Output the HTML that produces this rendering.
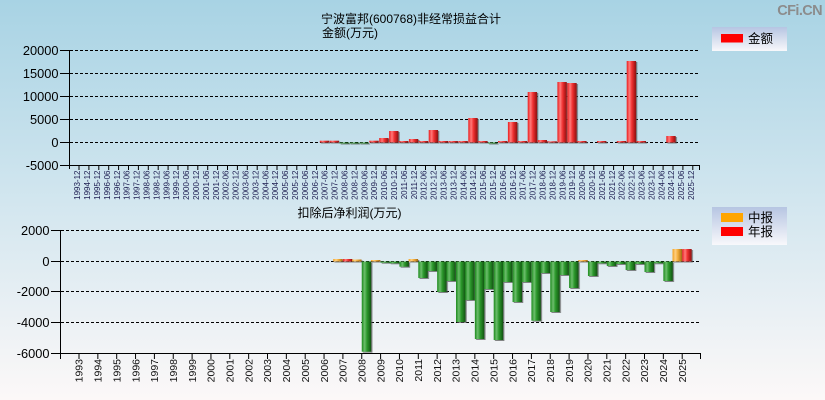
<!DOCTYPE html>
<html><head><meta charset="utf-8"><style>
html,body{margin:0;padding:0;}
body{width:825px;height:400px;overflow:hidden;}
svg{display:block;}
text{font-family:"Liberation Sans","Noto Sans CJK SC",sans-serif;}
</style></head><body>
<svg width="825" height="400" viewBox="0 0 825 400" xmlns="http://www.w3.org/2000/svg">
<defs>
<linearGradient id="bg" x1="0" y1="0" x2="0" y2="1">
<stop offset="0" stop-color="#a8d3e4"/><stop offset="0.5" stop-color="#d2e6ef"/><stop offset="1" stop-color="#fcf8f8"/>
</linearGradient>
<linearGradient id="lg" x1="0" y1="0" x2="0" y2="1">
<stop offset="0" stop-color="#b6c5e2"/><stop offset="1" stop-color="#f8f8fb"/>
</linearGradient>
<linearGradient id="rd" x1="0" y1="0" x2="1" y2="0">
<stop offset="0" stop-color="#ea1c1c"/><stop offset="0.3" stop-color="#ff7a7a"/><stop offset="0.55" stop-color="#f03232"/><stop offset="0.85" stop-color="#b01a1a"/><stop offset="1" stop-color="#8a1414"/>
</linearGradient>
<linearGradient id="gr" x1="0" y1="0" x2="1" y2="0">
<stop offset="0" stop-color="#1c8a1c"/><stop offset="0.3" stop-color="#6cbd6c"/><stop offset="0.55" stop-color="#2c982c"/><stop offset="0.85" stop-color="#1a6a1a"/><stop offset="1" stop-color="#145014"/>
</linearGradient>
<linearGradient id="or" x1="0" y1="0" x2="1" y2="0">
<stop offset="0" stop-color="#f0a020"/><stop offset="0.3" stop-color="#ffcf80"/><stop offset="0.55" stop-color="#f3ae3c"/><stop offset="0.85" stop-color="#c08020"/><stop offset="1" stop-color="#a06818"/>
</linearGradient>
<filter id="sh" x="-20%" y="-20%" width="140%" height="140%">
<feDropShadow dx="1.2" dy="1" stdDeviation="0.3" flood-color="#555" flood-opacity="0.7"/>
</filter>
<pattern id="tt" patternUnits="userSpaceOnUse" x="78.5" y="165" width="9.9" height="5"><rect x="0" y="0" width="1" height="5" fill="#000"/></pattern>
<pattern id="tb" patternUnits="userSpaceOnUse" x="78.5" y="353" width="18.85" height="6"><rect x="0" y="0" width="1" height="6" fill="#000"/></pattern>
</defs>
<rect x="0" y="0" width="825" height="400" fill="url(#bg)"/>

<!-- watermark -->
<text x="822" y="15" text-anchor="end" font-size="14.5" font-weight="bold" fill="#8c8c8c" letter-spacing="-0.6">CFi.CN</text>

<!-- ===== TOP CHART ===== -->
<text x="411" y="23" text-anchor="middle" font-size="12" fill="#000">宁波富邦(600768)非经常损益合计</text>
<text x="322" y="37" font-size="12" fill="#000">金额(万元)</text>

<g stroke="#000" stroke-width="1" stroke-dasharray="3,2">
<line x1="70" y1="50.5" x2="700" y2="50.5"/>
<line x1="70" y1="73.5" x2="700" y2="73.5"/>
<line x1="70" y1="96.5" x2="700" y2="96.5"/>
<line x1="70" y1="119.5" x2="700" y2="119.5"/>
<line x1="70" y1="142.5" x2="700" y2="142.5"/>
</g>

<g filter="url(#sh)">
<rect x="319.8" y="140.7" width="9.4" height="1.8" fill="url(#rd)"/>
<rect x="329.7" y="140.7" width="9.4" height="1.8" fill="url(#rd)"/>
<rect x="339.6" y="142.5" width="9.4" height="1" fill="url(#gr)"/>
<rect x="349.5" y="142.5" width="9.4" height="1" fill="url(#gr)"/>
<rect x="359.4" y="142.5" width="9.4" height="1" fill="url(#gr)"/>
<rect x="369.3" y="140.7" width="9.4" height="1.8" fill="url(#rd)"/>
<rect x="379.2" y="138" width="9.4" height="4.5" fill="url(#rd)"/>
<rect x="389.1" y="131" width="9.4" height="11.5" fill="url(#rd)"/>
<rect x="399.0" y="141" width="9.4" height="1.5" fill="url(#rd)"/>
<rect x="408.9" y="139" width="9.4" height="3.5" fill="url(#rd)"/>
<rect x="418.8" y="141" width="9.4" height="1.5" fill="url(#rd)"/>
<rect x="428.7" y="130" width="9.4" height="12.5" fill="url(#rd)"/>
<rect x="438.6" y="141" width="9.4" height="1.5" fill="url(#rd)"/>
<rect x="448.5" y="141" width="9.4" height="1.5" fill="url(#rd)"/>
<rect x="458.4" y="141" width="9.4" height="1.5" fill="url(#rd)"/>
<rect x="468.3" y="118" width="9.4" height="24.5" fill="url(#rd)"/>
<rect x="478.2" y="141" width="9.4" height="1.5" fill="url(#rd)"/>
<rect x="488.1" y="142.5" width="9.4" height="1" fill="url(#gr)"/>
<rect x="498.0" y="141" width="9.4" height="1.5" fill="url(#rd)"/>
<rect x="507.9" y="122" width="9.4" height="20.5" fill="url(#rd)"/>
<rect x="517.8" y="141" width="9.4" height="1.5" fill="url(#rd)"/>
<rect x="527.7" y="92" width="9.4" height="50.5" fill="url(#rd)"/>
<rect x="537.6" y="140" width="9.4" height="2.5" fill="url(#rd)"/>
<rect x="547.5" y="141.3" width="9.4" height="1.2" fill="url(#rd)"/>
<rect x="557.4" y="82" width="9.4" height="60.5" fill="url(#rd)"/>
<rect x="567.3" y="83" width="9.4" height="59.5" fill="url(#rd)"/>
<rect x="577.2" y="141" width="9.4" height="1.5" fill="url(#rd)"/>
<rect x="597.0" y="141" width="9.4" height="1.5" fill="url(#rd)"/>
<rect x="616.8" y="141" width="9.4" height="1.5" fill="url(#rd)"/>
<rect x="626.7" y="61" width="9.4" height="81.5" fill="url(#rd)"/>
<rect x="636.6" y="141" width="9.4" height="1.5" fill="url(#rd)"/>
<rect x="666.3" y="136" width="9.4" height="6.5" fill="url(#rd)"/>
</g>

<!-- axes top -->
<g stroke="#000" stroke-width="1">
<line x1="69.5" y1="50" x2="69.5" y2="169"/>
<line x1="69" y1="165.5" x2="700" y2="165.5"/>
<line x1="60" y1="50.5" x2="69" y2="50.5"/>
<line x1="60" y1="73.5" x2="69" y2="73.5"/>
<line x1="60" y1="96.5" x2="69" y2="96.5"/>
<line x1="60" y1="119.5" x2="69" y2="119.5"/>
<line x1="60" y1="142.5" x2="69" y2="142.5"/>
<line x1="60" y1="165.5" x2="69" y2="165.5"/>
<line x1="699.5" y1="165" x2="699.5" y2="170"/>
</g>
<rect x="78.5" y="165" width="615" height="5" fill="url(#tt)"/>

<g font-size="12.8" fill="#000" text-anchor="end">
<text x="58.5" y="55">20000</text>
<text x="58.5" y="78">15000</text>
<text x="58.5" y="101">10000</text>
<text x="58.5" y="124">5000</text>
<text x="58.5" y="147">0</text>
<text x="58.5" y="170">-5000</text>
</g>

<g font-size="8" fill="#1c1c50" text-anchor="end">
<text x="80.2" y="170.5" transform="rotate(-90 80.2 170.5)">1993-12</text>
<text x="90.1" y="170.5" transform="rotate(-90 90.1 170.5)">1994-12</text>
<text x="100.0" y="170.5" transform="rotate(-90 100.0 170.5)">1995-12</text>
<text x="109.9" y="170.5" transform="rotate(-90 109.9 170.5)">1996-06</text>
<text x="119.8" y="170.5" transform="rotate(-90 119.8 170.5)">1996-12</text>
<text x="129.7" y="170.5" transform="rotate(-90 129.7 170.5)">1997-06</text>
<text x="139.6" y="170.5" transform="rotate(-90 139.6 170.5)">1997-12</text>
<text x="149.5" y="170.5" transform="rotate(-90 149.5 170.5)">1998-06</text>
<text x="159.4" y="170.5" transform="rotate(-90 159.4 170.5)">1998-12</text>
<text x="169.3" y="170.5" transform="rotate(-90 169.3 170.5)">1999-06</text>
<text x="179.2" y="170.5" transform="rotate(-90 179.2 170.5)">1999-12</text>
<text x="189.1" y="170.5" transform="rotate(-90 189.1 170.5)">2000-06</text>
<text x="199.0" y="170.5" transform="rotate(-90 199.0 170.5)">2000-12</text>
<text x="208.9" y="170.5" transform="rotate(-90 208.9 170.5)">2001-06</text>
<text x="218.8" y="170.5" transform="rotate(-90 218.8 170.5)">2001-12</text>
<text x="228.7" y="170.5" transform="rotate(-90 228.7 170.5)">2002-06</text>
<text x="238.6" y="170.5" transform="rotate(-90 238.6 170.5)">2002-12</text>
<text x="248.5" y="170.5" transform="rotate(-90 248.5 170.5)">2003-06</text>
<text x="258.4" y="170.5" transform="rotate(-90 258.4 170.5)">2003-12</text>
<text x="268.3" y="170.5" transform="rotate(-90 268.3 170.5)">2004-06</text>
<text x="278.2" y="170.5" transform="rotate(-90 278.2 170.5)">2004-12</text>
<text x="288.1" y="170.5" transform="rotate(-90 288.1 170.5)">2005-06</text>
<text x="298.0" y="170.5" transform="rotate(-90 298.0 170.5)">2005-12</text>
<text x="307.9" y="170.5" transform="rotate(-90 307.9 170.5)">2006-06</text>
<text x="317.8" y="170.5" transform="rotate(-90 317.8 170.5)">2006-12</text>
<text x="327.7" y="170.5" transform="rotate(-90 327.7 170.5)">2007-06</text>
<text x="337.6" y="170.5" transform="rotate(-90 337.6 170.5)">2007-12</text>
<text x="347.5" y="170.5" transform="rotate(-90 347.5 170.5)">2008-06</text>
<text x="357.4" y="170.5" transform="rotate(-90 357.4 170.5)">2008-12</text>
<text x="367.3" y="170.5" transform="rotate(-90 367.3 170.5)">2009-06</text>
<text x="377.2" y="170.5" transform="rotate(-90 377.2 170.5)">2009-12</text>
<text x="387.1" y="170.5" transform="rotate(-90 387.1 170.5)">2010-06</text>
<text x="397.0" y="170.5" transform="rotate(-90 397.0 170.5)">2010-12</text>
<text x="406.9" y="170.5" transform="rotate(-90 406.9 170.5)">2011-06</text>
<text x="416.8" y="170.5" transform="rotate(-90 416.8 170.5)">2011-12</text>
<text x="426.7" y="170.5" transform="rotate(-90 426.7 170.5)">2012-06</text>
<text x="436.6" y="170.5" transform="rotate(-90 436.6 170.5)">2012-12</text>
<text x="446.5" y="170.5" transform="rotate(-90 446.5 170.5)">2013-06</text>
<text x="456.4" y="170.5" transform="rotate(-90 456.4 170.5)">2013-12</text>
<text x="466.3" y="170.5" transform="rotate(-90 466.3 170.5)">2014-06</text>
<text x="476.2" y="170.5" transform="rotate(-90 476.2 170.5)">2014-12</text>
<text x="486.1" y="170.5" transform="rotate(-90 486.1 170.5)">2015-06</text>
<text x="496.0" y="170.5" transform="rotate(-90 496.0 170.5)">2015-12</text>
<text x="505.9" y="170.5" transform="rotate(-90 505.9 170.5)">2016-06</text>
<text x="515.8" y="170.5" transform="rotate(-90 515.8 170.5)">2016-12</text>
<text x="525.7" y="170.5" transform="rotate(-90 525.7 170.5)">2017-06</text>
<text x="535.6" y="170.5" transform="rotate(-90 535.6 170.5)">2017-12</text>
<text x="545.5" y="170.5" transform="rotate(-90 545.5 170.5)">2018-06</text>
<text x="555.4" y="170.5" transform="rotate(-90 555.4 170.5)">2018-12</text>
<text x="565.3" y="170.5" transform="rotate(-90 565.3 170.5)">2019-06</text>
<text x="575.2" y="170.5" transform="rotate(-90 575.2 170.5)">2019-12</text>
<text x="585.1" y="170.5" transform="rotate(-90 585.1 170.5)">2020-06</text>
<text x="595.0" y="170.5" transform="rotate(-90 595.0 170.5)">2020-12</text>
<text x="604.9" y="170.5" transform="rotate(-90 604.9 170.5)">2021-06</text>
<text x="614.8" y="170.5" transform="rotate(-90 614.8 170.5)">2021-12</text>
<text x="624.7" y="170.5" transform="rotate(-90 624.7 170.5)">2022-06</text>
<text x="634.6" y="170.5" transform="rotate(-90 634.6 170.5)">2022-12</text>
<text x="644.5" y="170.5" transform="rotate(-90 644.5 170.5)">2023-06</text>
<text x="654.4" y="170.5" transform="rotate(-90 654.4 170.5)">2023-12</text>
<text x="664.3" y="170.5" transform="rotate(-90 664.3 170.5)">2024-06</text>
<text x="674.2" y="170.5" transform="rotate(-90 674.2 170.5)">2024-12</text>
<text x="684.1" y="170.5" transform="rotate(-90 684.1 170.5)">2025-06</text>
<text x="694.0" y="170.5" transform="rotate(-90 694.0 170.5)">2025-12</text>
</g>

<!-- top legend -->
<rect x="712" y="27" width="75" height="24" fill="url(#lg)"/>
<rect x="721" y="34" width="22" height="8.5" fill="#ff0000"/>
<text x="748" y="43" font-size="12.5" fill="#000">金额</text>

<!-- ===== BOTTOM CHART ===== -->
<text x="297.5" y="217" font-size="12" fill="#000">扣除后净利润(万元)</text>

<g stroke="#000" stroke-width="1" stroke-dasharray="3,2">
<line x1="61" y1="230.5" x2="700" y2="230.5"/>
<line x1="61" y1="261.5" x2="700" y2="261.5"/>
<line x1="61" y1="291.5" x2="700" y2="291.5"/>
<line x1="61" y1="322.5" x2="700" y2="322.5"/>
</g>

<g filter="url(#sh)">
<!-- 2007 -->
<rect x="333.2" y="259" width="9.5" height="2.5" fill="url(#or)"/>
<rect x="342.9" y="259" width="9.5" height="2.5" fill="url(#rd)"/>
<!-- 2008 -->
<rect x="352.05" y="259.5" width="9.5" height="2" fill="url(#or)"/>
<rect x="361.75" y="261.5" width="9.5" height="90.2" fill="url(#gr)"/>
<!-- 2009 -->
<rect x="370.9" y="260" width="9.5" height="1.5" fill="url(#or)"/>
<rect x="380.6" y="261.5" width="9.5" height="1.2" fill="url(#gr)"/>
<!-- 2010 -->
<rect x="389.75" y="261.5" width="9.5" height="1.8" fill="url(#gr)"/>
<rect x="399.45" y="261.5" width="9.5" height="5.2" fill="url(#gr)"/>
<!-- 2011 -->
<rect x="408.6" y="259" width="9.5" height="2.5" fill="url(#or)"/>
<rect x="418.3" y="261.5" width="9.5" height="16.5" fill="url(#gr)"/>
<!-- 2012 -->
<rect x="427.45" y="261.5" width="9.5" height="9.5" fill="url(#gr)"/>
<rect x="437.15" y="261.5" width="9.5" height="30.5" fill="url(#gr)"/>
<!-- 2013 -->
<rect x="446.3" y="261.5" width="9.5" height="19.5" fill="url(#gr)"/>
<rect x="456.0" y="261.5" width="9.5" height="60.5" fill="url(#gr)"/>
<!-- 2014 -->
<rect x="465.15" y="261.5" width="9.5" height="38.5" fill="url(#gr)"/>
<rect x="474.85" y="261.5" width="9.5" height="77.5" fill="url(#gr)"/>
<!-- 2015 -->
<rect x="484.0" y="261.5" width="9.5" height="27.5" fill="url(#gr)"/>
<rect x="493.7" y="261.5" width="9.5" height="78.5" fill="url(#gr)"/>
<!-- 2016 -->
<rect x="502.85" y="261.5" width="9.5" height="20.5" fill="url(#gr)"/>
<rect x="512.55" y="261.5" width="9.5" height="40.5" fill="url(#gr)"/>
<!-- 2017 -->
<rect x="521.7" y="261.5" width="9.5" height="20.5" fill="url(#gr)"/>
<rect x="531.4" y="261.5" width="9.5" height="59.2" fill="url(#gr)"/>
<!-- 2018 -->
<rect x="540.55" y="261.5" width="9.5" height="11.5" fill="url(#gr)"/>
<rect x="550.25" y="261.5" width="9.5" height="50.5" fill="url(#gr)"/>
<!-- 2019 -->
<rect x="559.4" y="261.5" width="9.5" height="13.5" fill="url(#gr)"/>
<rect x="569.1" y="261.5" width="9.5" height="26.5" fill="url(#gr)"/>
<!-- 2020 -->
<rect x="578.25" y="260" width="9.5" height="1.5" fill="url(#or)"/>
<rect x="587.95" y="261.5" width="9.5" height="14.5" fill="url(#gr)"/>
<!-- 2021 -->
<rect x="597.1" y="261.5" width="9.5" height="1.8" fill="url(#gr)"/>
<rect x="606.8" y="261.5" width="9.5" height="4.5" fill="url(#gr)"/>
<!-- 2022 -->
<rect x="615.95" y="261.5" width="9.5" height="2.5" fill="url(#gr)"/>
<rect x="625.65" y="261.5" width="9.5" height="8.5" fill="url(#gr)"/>
<!-- 2023 -->
<rect x="634.8" y="261.5" width="9.5" height="2.5" fill="url(#gr)"/>
<rect x="644.5" y="261.5" width="9.5" height="10.5" fill="url(#gr)"/>
<!-- 2024 -->
<rect x="653.65" y="261.5" width="9.5" height="1.8" fill="url(#gr)"/>
<rect x="663.35" y="261.5" width="9.5" height="19.5" fill="url(#gr)"/>
<!-- 2025 -->
<rect x="672.5" y="249" width="9.5" height="12.5" fill="url(#or)"/>
<rect x="682.2" y="249" width="9.5" height="12.5" fill="url(#rd)"/>
</g>

<!-- axes bottom -->
<g stroke="#000" stroke-width="1">
<line x1="60.5" y1="230" x2="60.5" y2="359"/>
<line x1="60" y1="353.5" x2="700" y2="353.5"/>
<line x1="51" y1="230.5" x2="60" y2="230.5"/>
<line x1="51" y1="261.5" x2="60" y2="261.5"/>
<line x1="51" y1="291.5" x2="60" y2="291.5"/>
<line x1="51" y1="322.5" x2="60" y2="322.5"/>
<line x1="51" y1="353.5" x2="60" y2="353.5"/>
<line x1="700.5" y1="353" x2="700.5" y2="359"/>
</g>
<rect x="78.5" y="353" width="604.5" height="6" fill="url(#tb)"/>

<g font-size="12.8" fill="#000" text-anchor="end">
<text x="49.5" y="235">2000</text>
<text x="49.5" y="266">0</text>
<text x="49.5" y="296">-2000</text>
<text x="49.5" y="327">-4000</text>
<text x="49.5" y="358">-6000</text>
</g>

<g font-size="10.5" fill="#111" text-anchor="end">
<text x="82.7" y="359" transform="rotate(-90 82.7 359)">1993</text>
<text x="101.55" y="359" transform="rotate(-90 101.55 359)">1994</text>
<text x="120.4" y="359" transform="rotate(-90 120.4 359)">1995</text>
<text x="139.25" y="359" transform="rotate(-90 139.25 359)">1996</text>
<text x="158.1" y="359" transform="rotate(-90 158.1 359)">1997</text>
<text x="176.95" y="359" transform="rotate(-90 176.95 359)">1998</text>
<text x="195.8" y="359" transform="rotate(-90 195.8 359)">1999</text>
<text x="214.65" y="359" transform="rotate(-90 214.65 359)">2000</text>
<text x="233.5" y="359" transform="rotate(-90 233.5 359)">2001</text>
<text x="252.35" y="359" transform="rotate(-90 252.35 359)">2002</text>
<text x="271.2" y="359" transform="rotate(-90 271.2 359)">2003</text>
<text x="290.05" y="359" transform="rotate(-90 290.05 359)">2004</text>
<text x="308.9" y="359" transform="rotate(-90 308.9 359)">2005</text>
<text x="327.75" y="359" transform="rotate(-90 327.75 359)">2006</text>
<text x="346.6" y="359" transform="rotate(-90 346.6 359)">2007</text>
<text x="365.45" y="359" transform="rotate(-90 365.45 359)">2008</text>
<text x="384.3" y="359" transform="rotate(-90 384.3 359)">2009</text>
<text x="403.15" y="359" transform="rotate(-90 403.15 359)">2010</text>
<text x="422.0" y="359" transform="rotate(-90 422.0 359)">2011</text>
<text x="440.85" y="359" transform="rotate(-90 440.85 359)">2012</text>
<text x="459.7" y="359" transform="rotate(-90 459.7 359)">2013</text>
<text x="478.55" y="359" transform="rotate(-90 478.55 359)">2014</text>
<text x="497.4" y="359" transform="rotate(-90 497.4 359)">2015</text>
<text x="516.25" y="359" transform="rotate(-90 516.25 359)">2016</text>
<text x="535.1" y="359" transform="rotate(-90 535.1 359)">2017</text>
<text x="553.95" y="359" transform="rotate(-90 553.95 359)">2018</text>
<text x="572.8" y="359" transform="rotate(-90 572.8 359)">2019</text>
<text x="591.65" y="359" transform="rotate(-90 591.65 359)">2020</text>
<text x="610.5" y="359" transform="rotate(-90 610.5 359)">2021</text>
<text x="629.35" y="359" transform="rotate(-90 629.35 359)">2022</text>
<text x="648.2" y="359" transform="rotate(-90 648.2 359)">2023</text>
<text x="667.05" y="359" transform="rotate(-90 667.05 359)">2024</text>
<text x="685.9" y="359" transform="rotate(-90 685.9 359)">2025</text>
</g>

<!-- bottom legend -->
<rect x="712" y="207" width="75" height="38" fill="url(#lg)"/>
<rect x="721" y="213" width="22" height="9" fill="#ffa500"/>
<rect x="721" y="227" width="22" height="9" fill="#ff0000"/>
<text x="748" y="222" font-size="12.5" fill="#000">中报</text>
<text x="748" y="236" font-size="12.5" fill="#000">年报</text>
</svg>
</body></html>
